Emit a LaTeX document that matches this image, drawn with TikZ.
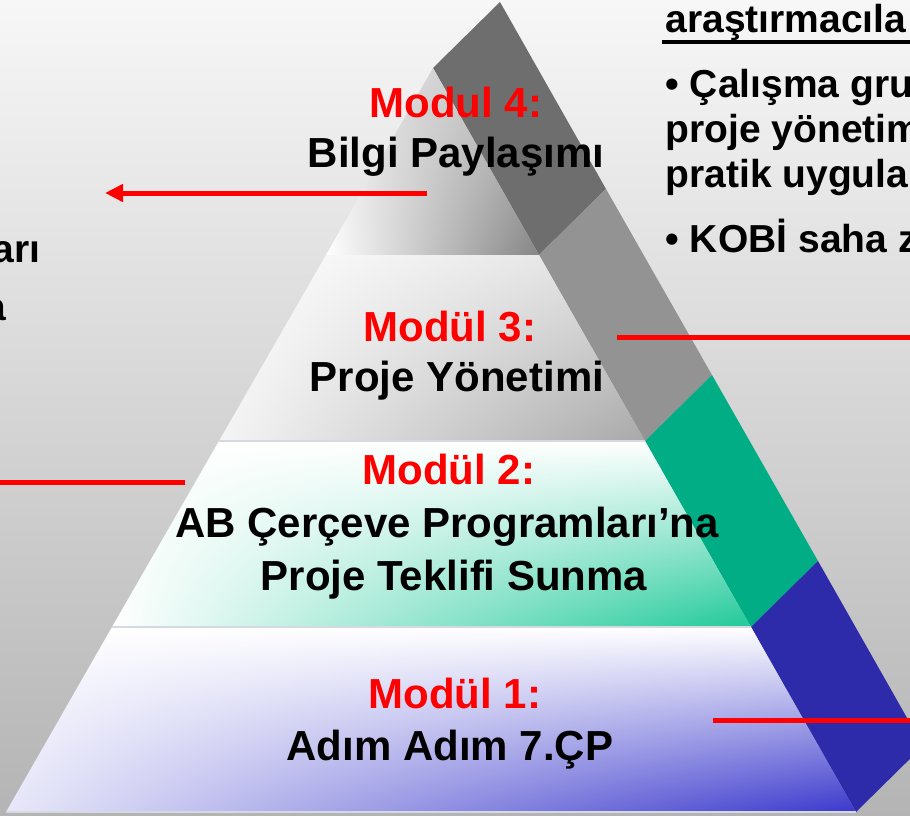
\documentclass[tikz,border=0pt]{standalone}
\usepackage{fontspec}
\setmainfont{Liberation Sans}
\usepackage{tikz}
\usetikzlibrary{arrows.meta,calc,shadings}

\definecolor{bgtop}{HTML}{F7F7F7}
\definecolor{bgbot}{HTML}{B4B4B4}
\definecolor{stripgrayA}{HTML}{6E6E6E}
\definecolor{stripgrayB}{HTML}{939393}
\definecolor{stripgreen}{HTML}{00AD85}
\definecolor{stripblue}{HTML}{2E2BAB}
\definecolor{facegray}{HTML}{858585}
\definecolor{facegreen}{HTML}{1FC999}
\definecolor{faceblue}{HTML}{3A38CC}
\definecolor{seam}{HTML}{D5DAE2}

\tikzset{
    title/.style={text=red,font=\fontsize{42}{42}\selectfont\bfseries,anchor=base},
    subtitle/.style={text=black,font=\fontsize{42}{42}\selectfont\bfseries,anchor=base},
    sidetext/.style={text=black,font=\fontsize{39}{39}\selectfont\bfseries,anchor=base west},
    redline/.style={draw=red,line width=5pt},
}

\begin{document}
\begin{tikzpicture}[x=1pt,y=-1pt]

    \useasboundingbox (0,0) rectangle (910,816);
    \clip (0,0) rectangle (910,816);
    \shade[top color=bgtop, bottom color=bgbot] (0,0) rectangle (910,816);

    % pyramid corners %
    \coordinate (top) at (433,68);
    \coordinate (l4) at (326,255);  \coordinate (r4) at (539,255);
    \coordinate (l3) at (219,441);  \coordinate (r3) at (645,441);
    \coordinate (l2) at (112,627);  \coordinate (r2) at (751,627);
    \coordinate (l1) at (6,812);    \coordinate (r1) at (856,812);

    % side strip %
    \fill[stripgrayA] (top) -- ++(67,-66) -- ($(r4)+(67,-66)$) -- (r4) -- cycle;
    \fill[stripgrayB] (r4) -- ++(67,-66) -- ($(r3)+(67,-66)$) -- (r3) -- cycle;
    \fill[stripgreen] (r3) -- ++(67,-66) -- ($(r2)+(67,-66)$) -- (r2) -- cycle;
    \fill[stripblue] (r2) -- ++(67,-66) -- ($(r1)+(67,-66)$) -- (r1) -- cycle;

    % front faces %
    \shade[upper left=white!92!black, upper right=white!75!black, lower left=white, lower right=facegray]
        (top) -- (r4) -- (l4) -- cycle;
    \shade[upper left=white, upper right=white!88!black, lower left=white!96!black, lower right=white!66!black]
        (l4) -- (r4) -- (r3) -- (l3) -- cycle;
    \shade[upper left=white, upper right=white, lower left=white, lower right=facegreen]
        (l3) -- (r3) -- (r2) -- (l2) -- cycle;
    \shade[upper left=white, upper right=white, lower left=white!88!faceblue, lower right=faceblue]
        (l2) -- (r2) -- (r1) -- (l1) -- cycle;
    \draw[seam,line width=1.2pt] (l3) -- (r3) (l2) -- (r2) (l1) -- (r1);

    % module texts %
    \node[title] (m4) at (456,117) {Modul 4:};
    \node[subtitle] (t4) at (456,167) {Bilgi Paylaşımı};
    \node[title] (m3) at (450,341) {Modül 3:};
    \node[subtitle] (t3) at (457,391) {Proje Yönetimi};
    \node[title] (m2) at (449,484) {Modül 2:};
    \node[subtitle] (t2a) at (447,537) {AB Çerçeve Programları’na};
    \node[subtitle] (t2b) at (454,590) {Proje Teklifi Sunma};
    \node[title] (m1) at (455,708) {Modül 1:};
    \node[subtitle] (t1) at (450,760) {Adım Adım 7.ÇP};

    % texts cut by the page edge %
    \node[sidetext] (s0) at (662,33) {araştırmacıla};
    \draw[line width=3.5pt] ([yshift=-9pt]s0.base west) -- ([yshift=-9pt]s0.base east);
    \node[sidetext] (s1) at (662,97) {• Çalışma gru};
    \node[sidetext] (s2) at (662,142) {proje yönetim};
    \node[sidetext] (s3) at (662,187) {pratik uygula};
    \node[sidetext] (s4) at (662,252) {• KOBİ saha z};
    \node[sidetext,anchor=base east] (w1) at (44,262) {arı};
    \node[sidetext,anchor=base east] (w2) at (10,320) {a};

    % red pointers %
    \coordinate (p4a) at (427,193);  \coordinate (p4b) at (105,193);
    \coordinate (p3a) at (617,337);  \coordinate (p3b) at (910,337);
    \coordinate (p2a) at (185,482);  \coordinate (p2b) at (0,482);
    \coordinate (p1a) at (713,720);  \coordinate (p1b) at (910,720);
    \draw[redline,-{Triangle[length=18pt,width=17pt]}] (p4a) -- (p4b);
    \draw[redline] (p3a) -- (p3b);
    \draw[redline] (p2a) -- (p2b);
    \draw[redline] (p1a) -- (p1b);

\end{tikzpicture}
\end{document}
